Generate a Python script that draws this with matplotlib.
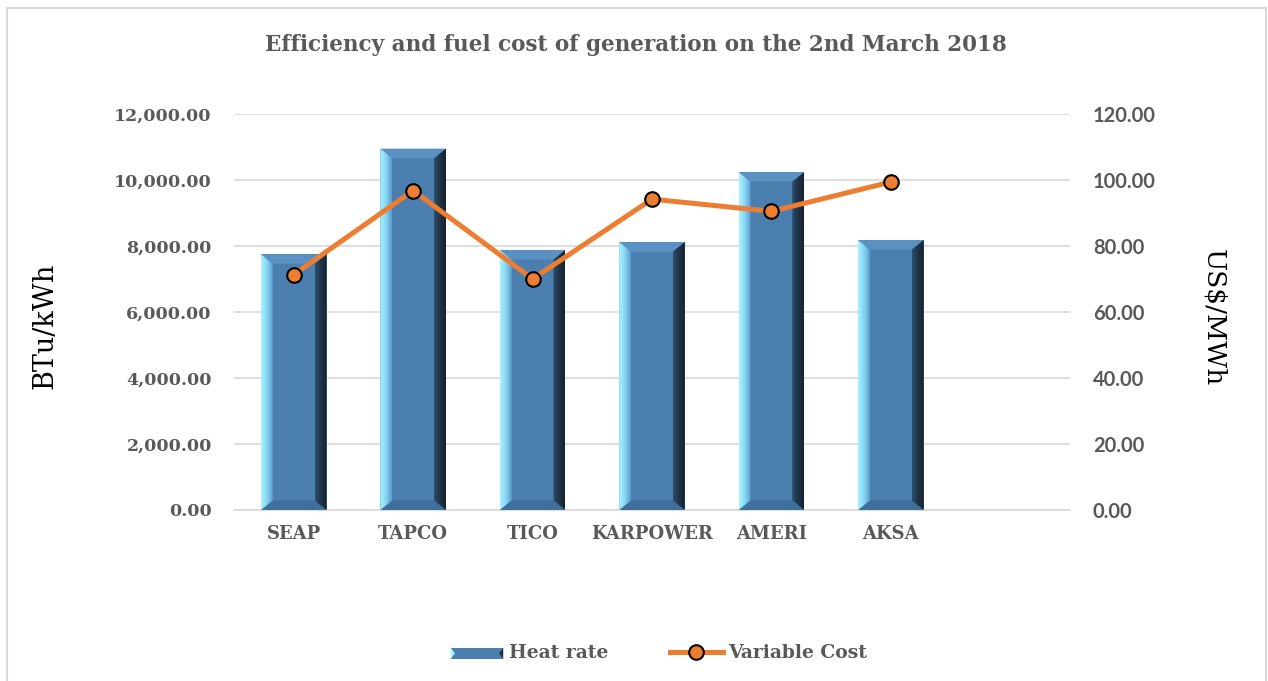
import numpy as np
import matplotlib
matplotlib.use("Agg")
from matplotlib import pyplot as plt
from matplotlib.patches import Polygon, Rectangle, Patch
from matplotlib.lines import Line2D
from matplotlib.legend_handler import HandlerBase
from matplotlib.colors import LinearSegmentedColormap

# data
plants = ["SEAP", "TAPCO", "TICO", "KARPOWER", "AMERI", "AKSA", ""]
heat_rate = [7750, 10950, 7880, 8120, 10240, 8180]
variable_cost = [71.3, 96.8, 70.0, 94.2, 90.5, 99.4]

SERIF = "DejaVu Serif"
SANS = "Lato"
GREY = "#595959"
FACE = "#4a7fb0"
TOP = "#5b90c2"
BOTTOM = "#3f6f9c"
ORANGE = "#ed7d31"

fig = plt.figure(figsize=(12.68, 6.81), dpi=100)
fig.patches.append(Rectangle((7 / 1268, -0.05), 1259 / 1268, 1.05 - 8 / 681,
                             transform=fig.transFigure, fill=False,
                             edgecolor="#d9d9d9", lw=1.5))

ax = fig.add_axes([234 / 1268, 171 / 681, 836 / 1268, 396 / 681])
ax2 = ax.twinx()

x = np.arange(len(plants))
heat_x = x[:len(heat_rate)]
bw = 0.55
bars = ax.bar(heat_x, heat_rate, width=bw, color=FACE, zorder=2)

# bevel look on each bar
bx = 0.1     # horizontal bevel, data units
by = 290     # vertical bevel, data units
left_cmap = LinearSegmentedColormap.from_list("l", ["#a8f2ff", "#86d6f4", "#5d9acb"])
right_cmap = LinearSegmentedColormap.from_list("r", ["#2e4d6a", "#1f3447", "#16222e"])
for r in bars:
    x0, w, h = r.get_x(), r.get_width(), r.get_height()
    x1 = x0 + w
    top = Polygon([(x0, h), (x1, h), (x1 - bx, h - by), (x0 + bx, h - by)],
                  closed=True, facecolor=TOP, edgecolor="none", zorder=3)
    bot = Polygon([(x0, 0), (x1, 0), (x1 - bx, by), (x0 + bx, by)],
                  closed=True, facecolor=BOTTOM, edgecolor="none", zorder=3)
    ax.add_patch(top)
    ax.add_patch(bot)
    lp = Polygon([(x0, 0), (x0 + bx, by), (x0 + bx, h - by), (x0, h)],
                 closed=True, facecolor="none", edgecolor="none")
    ax.add_patch(lp)
    im = ax.imshow(np.linspace(0, 1, 50).reshape(1, -1), cmap=left_cmap,
                   extent=[x0, x0 + bx, 0, h], aspect="auto", zorder=3,
                   interpolation="bilinear")
    im.set_clip_path(lp)
    rp = Polygon([(x1, 0), (x1 - bx, by), (x1 - bx, h - by), (x1, h)],
                 closed=True, facecolor="none", edgecolor="none")
    ax.add_patch(rp)
    im = ax.imshow(np.linspace(0, 1, 50).reshape(1, -1), cmap=right_cmap,
                   extent=[x1 - bx, x1, 0, h], aspect="auto", zorder=3,
                   interpolation="bilinear")
    im.set_clip_path(rp)

ax.set_xlim(-0.5, len(plants) - 0.5)
ax.set_ylim(0, 12000)
ax.set_yticks(np.arange(0, 12001, 2000))
ax.set_yticklabels(["{:,.2f}".format(v) for v in np.arange(0, 12001, 2000)],
                   fontfamily=SERIF, fontweight="bold", fontsize=12.5, color=GREY)
ax.set_xticks(x)
ax.set_xticklabels(plants, fontfamily=SERIF, fontweight="bold", fontsize=13, color=GREY)
ax.tick_params(axis="y", length=0, pad=16)
ax.tick_params(axis="x", length=0, pad=11)
ax.grid(axis="y", color="#d9d9d9", lw=1.2, zorder=0)
ax.set_axisbelow(True)
for s in ax.spines.values():
    s.set_visible(False)
ax.spines["bottom"].set_visible(True)
ax.spines["bottom"].set_color("#d9d9d9")
ax.spines["bottom"].set_linewidth(1.2)

ax2.plot(heat_x, variable_cost, color=ORANGE, lw=3.6, marker="o", markersize=10.5,
         markerfacecolor=ORANGE, markeredgecolor="black", markeredgewidth=1.5, zorder=5)
ax2.set_ylim(0, 120)
ax2.set_yticks(np.arange(0, 121, 20))
ax2.set_yticklabels(["%.2f" % v for v in np.arange(0, 121, 20)],
                    fontfamily=SANS, fontweight="bold", fontsize=14.5, color=GREY)
ax2.tick_params(axis="y", length=0, pad=16.5)
for s in ax2.spines.values():
    s.set_visible(False)

fig.text(45 / 1268, 1 - 326 / 681, "BTu/kWh", rotation=90, ha="center", va="center",
         fontfamily=SERIF, fontsize=19.5, color="black")
fig.text(1214 / 1268, 1 - 318 / 681, "US$/MWh", rotation=-90, ha="center", va="center",
         fontfamily=SERIF, fontsize=19, color="black")
fig.text(636 / 1268, 1 - 45 / 681, "Efficiency and fuel cost of generation on the 2nd March 2018",
         ha="center", va="center", fontfamily=SERIF, fontweight="bold", fontsize=15.5, color=GREY)


class BevelHandler(HandlerBase):
    def create_artists(self, legend, orig, xd, yd, width, height, fontsize, trans):
        arts = [Rectangle((xd, yd), width, height, facecolor=FACE, edgecolor="none", transform=trans)]
        e = width * 0.08
        arts.append(Polygon([(xd, yd), (xd + e, yd + height / 2), (xd, yd + height)],
                            facecolor="#a6f0ff", edgecolor="none", transform=trans))
        arts.append(Polygon([(xd + width, yd), (xd + width - e, yd + height / 2), (xd + width, yd + height)],
                            facecolor="#1e3346", edgecolor="none", transform=trans))
        return arts


h1 = Patch(facecolor=FACE)
h2 = Line2D([], [], color=ORANGE, lw=3.6, marker="o", markersize=10.5,
            markerfacecolor=ORANGE, markeredgecolor="black", markeredgewidth=1.5)
fig.legend([h1, h2], ["Heat rate", "Variable Cost"], loc="center",
           bbox_to_anchor=(659 / 1268, 1 - 653 / 681), ncol=2, frameon=False,
           handler_map={Patch: BevelHandler()}, handlelength=2.8, handleheight=0.55,
           columnspacing=3.3, handletextpad=0.3,
           prop={"family": SERIF, "weight": "bold", "size": 13.5})
for t in fig.legends[0].get_texts():
    t.set_color(GREY)

fig.savefig("out.png", dpi=100)
